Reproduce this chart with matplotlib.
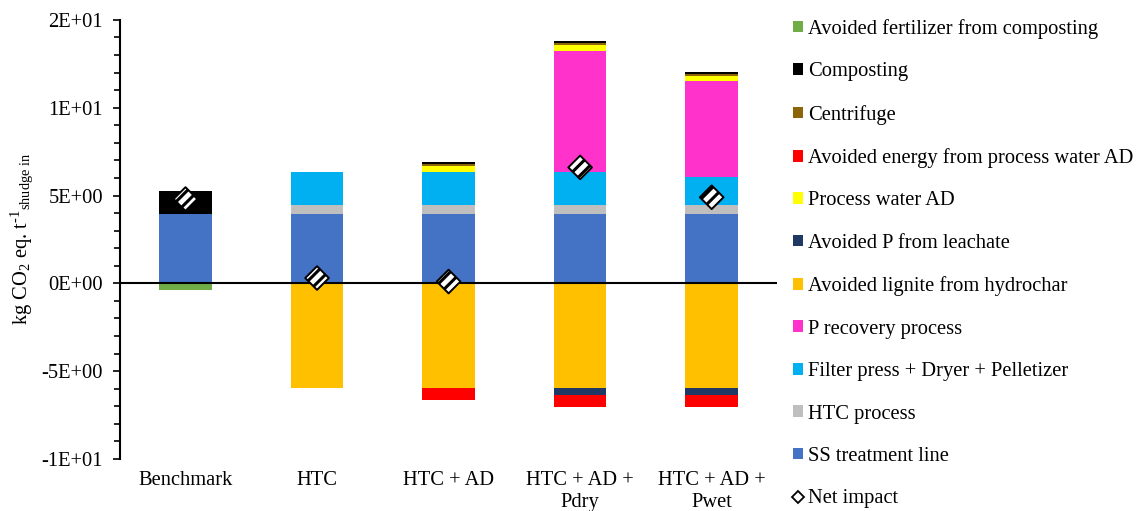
import matplotlib.pyplot as plt
from matplotlib.patches import Patch
from matplotlib.lines import Line2D
from matplotlib.ticker import MultipleLocator, FixedFormatter, FixedLocator
import numpy as np

plt.rcParams['font.family'] = ['Liberation Serif', 'DejaVu Serif']
plt.rcParams['mathtext.fontset'] = 'custom'
plt.rcParams['mathtext.rm'] = 'Liberation Serif'
plt.rcParams['mathtext.it'] = 'Liberation Serif:italic'
plt.rcParams['hatch.linewidth'] = 2.2

scenarios = ['Benchmark', 'HTC', 'HTC + AD', 'HTC + AD +\nPdry', 'HTC + AD +\nPwet']

# positive contributions (stacked upwards, in this order)
ss_line = [3.95, 3.95, 3.95, 3.95, 3.95]
htc_process = [0, 0.5, 0.5, 0.5, 0.5]
filter_press = [0, 1.9, 1.9, 1.9, 1.6]
p_recovery = [0, 0, 0, 6.9, 5.5]
process_water_ad = [0, 0, 0.33, 0.34, 0.28]
centrifuge = [0, 0, 0.1, 0.1, 0.1]
composting = [1.3, 0, 0.1, 0.12, 0.12]

# avoided burdens (stacked downwards)
avoided_lignite = [0, -5.95, -5.95, -5.95, -5.95]
avoided_p = [0, 0, 0, -0.4, -0.4]
avoided_energy = [0, 0, -0.72, -0.7, -0.7]
avoided_fertilizer = [-0.4, 0, 0, 0, 0]

net_impact = [4.8, 0.3, 0.1, 6.6, 4.9]

colors = {
    'SS treatment line': '#4472C4',
    'HTC process': '#BFBFBF',
    'Filter press + Dryer + Pelletizer': '#00B0F0',
    'P recovery process': '#FF33CC',
    'Process water AD': '#FFFF00',
    'Centrifuge': '#8B6508',
    'Composting': '#000000',
    'Avoided lignite from hydrochar': '#FFC000',
    'Avoided P from leachate': '#203864',
    'Avoided energy from process water AD': '#FF0000',
    'Avoided fertilizer from composting': '#70AD47',
}

pos_series = [
    ('SS treatment line', ss_line),
    ('HTC process', htc_process),
    ('Filter press + Dryer + Pelletizer', filter_press),
    ('P recovery process', p_recovery),
    ('Process water AD', process_water_ad),
    ('Centrifuge', centrifuge),
    ('Composting', composting),
]
neg_series = [
    ('Avoided lignite from hydrochar', avoided_lignite),
    ('Avoided P from leachate', avoided_p),
    ('Avoided energy from process water AD', avoided_energy),
    ('Avoided fertilizer from composting', avoided_fertilizer),
]

fig = plt.figure(figsize=(11.4, 5.11), dpi=100)
ax = fig.add_axes([0.105, 0.102, 0.577, 0.859])

x = np.arange(len(scenarios))
width = 0.4
fs = 14.8

for series in (pos_series, neg_series):
    bottom = np.zeros(len(x))
    for name, vals in series:
        vals = np.array(vals, dtype=float)
        ax.bar(x, vals, width, bottom=bottom, color=colors[name], linewidth=0)
        bottom += vals

ax.axhline(0, color='black', linewidth=1.5, zorder=3)

# net impact diamonds with striped fill
ax.scatter(x, net_impact, marker='D', s=145, facecolor='white',
           edgecolor='black', linewidths=1.4, hatch='///', zorder=5)

ax.set_xlim(-0.5, 4.5)
ax.set_ylim(-10, 15)
ax.yaxis.set_major_locator(FixedLocator([-10, -5, 0, 5, 10, 15]))
ax.yaxis.set_major_formatter(FixedFormatter(
    ['-1E+01', '-5E+00', '0E+00', '5E+00', '1E+01', '2E+01']))
ax.yaxis.set_minor_locator(MultipleLocator(1))
ax.tick_params(axis='y', which='major', length=5, width=1.2,
               labelsize=fs, pad=7)
ax.tick_params(axis='y', which='minor', length=4, width=1.2)
ax.set_xticks(x)
ax.set_xticklabels(scenarios, fontsize=fs, linespacing=1.2)
ax.tick_params(axis='x', length=0, pad=9)

for side in ['top', 'right', 'bottom']:
    ax.spines[side].set_visible(False)
ax.spines['left'].set_linewidth(1.5)

ax.set_ylabel(r'kg CO$_2$ eq. t$^{\text{-1}}$$_{\mathrm{shudge\ in}}$',
              fontsize=fs, labelpad=5)

legend_order = [
    'Avoided fertilizer from composting',
    'Composting',
    'Centrifuge',
    'Avoided energy from process water AD',
    'Process water AD',
    'Avoided P from leachate',
    'Avoided lignite from hydrochar',
    'P recovery process',
    'Filter press + Dryer + Pelletizer',
    'HTC process',
    'SS treatment line',
]
handles = [Patch(facecolor=colors[n], edgecolor='none', label=n)
           for n in legend_order]
handles.append(Line2D([], [], marker='D', linestyle='none', markersize=6,
                      markerfacecolor='white', markeredgecolor='black',
                      markeredgewidth=1.3, label='Net impact'))

fig.legend(handles=handles, loc='center left', bbox_to_anchor=(0.679, 0.484),
           frameon=False, fontsize=fs, handlelength=0.5, handleheight=0.5,
           handletextpad=0.25, labelspacing=1.14, borderaxespad=0.5)

fig.savefig('out.png', dpi=100)
